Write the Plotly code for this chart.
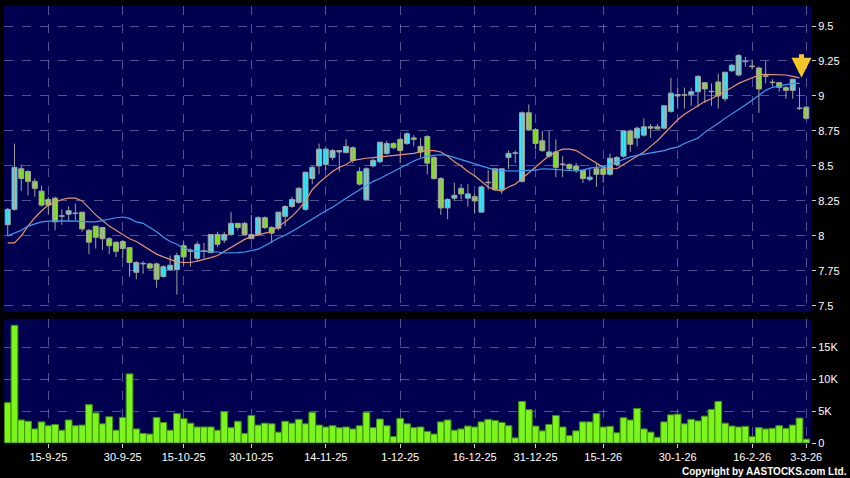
import pandas as pd
import plotly.graph_objects as go

# ---------------- data ----------------
holidays = ["2025-10-01", "2025-10-07", "2025-10-29", "2025-12-25", "2025-12-26",
            "2026-01-01", "2026-02-17", "2026-02-18", "2026-02-19"]
dates = [d for d in pd.bdate_range("2025-09-05", "2026-03-03") if d.strftime("%Y-%m-%d") not in holidays]
date_labels = [d.strftime("%Y-%m-%d") for d in dates]

opens = [8.08, 8.19, 8.48, 8.46, 8.39, 8.32, 8.26, 8.27, 8.14, 8.155,
         8.16, 8.17, 8.04, 8.07, 8.06, 7.98, 7.955, 7.96, 7.916, 7.74,
         7.80, 7.80, 7.80, 7.71, 7.76, 7.76, 7.93, 7.89, 7.84, 7.89,
         7.88, 8.01, 7.97, 8.01, 8.09, 8.09, 7.98, 8.01, 8.13, 8.06,
         8.055, 8.14, 8.21, 8.24, 8.19, 8.41, 8.50, 8.51, 8.56, 8.61,
         8.595, 8.63, 8.46, 8.26, 8.50, 8.53, 8.59, 8.66, 8.69, 8.66,
         8.70, 8.64, 8.71, 8.56, 8.41, 8.20, 8.27, 8.34, 8.27, 8.28,
         8.17, 8.38, 8.48, 8.33, 8.56, 8.59, 8.39, 8.88, 8.76, 8.68,
         8.57, 8.60, 8.51, 8.51, 8.50, 8.47, 8.405, 8.48, 8.48, 8.44,
         8.51, 8.57, 8.75, 8.70, 8.72, 8.78, 8.78, 8.77, 8.89, 9.01,
         9.005, 9.01, 9.03, 9.095, 9.03, 9.10, 8.98, 9.18, 9.15, 9.245,
         9.21, 9.20, 9.14, 9.095, 9.095, 9.06, 9.04, 8.91, 8.92]
highs = [8.20, 8.66, 8.51, 8.47, 8.41, 8.36, 8.28, 8.28, 8.19, 8.21,
         8.23, 8.17, 8.05, 8.07, 8.06, 7.99, 7.96, 7.97, 7.92, 7.82,
         7.82, 7.81, 7.81, 7.79, 7.86, 7.88, 7.96, 7.91, 7.96, 7.95,
         8.01, 8.03, 8.03, 8.17, 8.09, 8.10, 8.15, 8.14, 8.14, 8.07,
         8.17, 8.22, 8.28, 8.35, 8.46, 8.50, 8.66, 8.64, 8.62, 8.61,
         8.69, 8.64, 8.49, 8.49, 8.55, 8.67, 8.68, 8.67, 8.70, 8.74,
         8.72, 8.70, 8.72, 8.57, 8.42, 8.27, 8.38, 8.37, 8.37, 8.30,
         8.36, 8.47, 8.48, 8.48, 8.61, 8.61, 8.89, 8.94, 8.77, 8.75,
         8.75, 8.69, 8.57, 8.52, 8.52, 8.47, 8.48, 8.52, 8.50, 8.59,
         8.57, 8.75, 8.76, 8.78, 8.84, 8.80, 8.80, 8.93, 9.13, 9.06,
         9.06, 9.06, 9.15, 9.10, 9.09, 9.16, 9.17, 9.23, 9.30, 9.28,
         9.26, 9.21, 9.25, 9.12, 9.10, 9.07, 9.12, 9.06, 8.93]
lows = [8.00, 8.18, 8.32, 8.29, 8.28, 8.21, 8.15, 8.04, 8.08, 8.11,
        8.11, 8.03, 7.87, 7.91, 7.90, 7.87, 7.85, 7.84, 7.71, 7.69,
        7.73, 7.76, 7.63, 7.70, 7.75, 7.58, 7.79, 7.78, 7.82, 7.84,
        7.88, 7.92, 7.95, 8.00, 8.04, 8.00, 7.98, 8.00, 8.05, 7.95,
        8.04, 8.07, 8.20, 8.23, 8.18, 8.37, 8.44, 8.47, 8.54, 8.46,
        8.59, 8.52, 8.36, 8.26, 8.49, 8.52, 8.58, 8.62, 8.52, 8.65,
        8.64, 8.56, 8.44, 8.40, 8.15, 8.12, 8.25, 8.26, 8.21, 8.16,
        8.17, 8.33, 8.32, 8.30, 8.48, 8.52, 8.38, 8.75, 8.62, 8.60,
        8.56, 8.42, 8.42, 8.47, 8.45, 8.38, 8.39, 8.35, 8.38, 8.43,
        8.50, 8.56, 8.60, 8.64, 8.71, 8.70, 8.76, 8.76, 8.88, 8.91,
        8.91, 8.93, 8.92, 8.95, 8.93, 8.91, 8.96, 9.17, 9.14, 9.21,
        9.19, 8.88, 9.09, 9.07, 9.03, 8.98, 8.98, 8.90, 8.83]
closes = [8.19, 8.49, 8.41, 8.39, 8.34, 8.22, 8.22, 8.10, 8.14, 8.18,
          8.16, 8.05, 7.955, 7.99, 7.98, 7.93, 7.89, 7.91, 7.81, 7.81,
          7.80, 7.77, 7.69, 7.78, 7.79, 7.86, 7.85, 7.89, 7.94, 7.89,
          8.01, 7.94, 8.01, 8.09, 8.06, 8.01, 8.01, 8.13, 8.06, 8.02,
          8.17, 8.21, 8.26, 8.34, 8.455, 8.49, 8.62, 8.62, 8.61, 8.60,
          8.64, 8.54, 8.37, 8.48, 8.54, 8.67, 8.66, 8.63, 8.61, 8.73,
          8.69, 8.60, 8.52, 8.41, 8.20, 8.26, 8.29, 8.30, 8.30, 8.25,
          8.35, 8.38, 8.33, 8.48, 8.59, 8.59, 8.88, 8.76, 8.66, 8.61,
          8.60, 8.49, 8.51, 8.48, 8.47, 8.41, 8.42, 8.44, 8.44, 8.555,
          8.56, 8.75, 8.655, 8.77, 8.78, 8.77, 8.765, 8.93, 9.02, 9.00,
          9.005, 9.03, 9.14, 9.05, 9.03, 9.00, 9.17, 9.22, 9.29, 9.245,
          9.21, 9.05, 9.14, 9.095, 9.062, 9.04, 9.12, 8.91, 8.84]

ma_short = [7.95, 7.95, 8.00, 8.07, 8.13, 8.18, 8.22, 8.24, 8.26, 8.27,
            8.27, 8.25, 8.20, 8.15, 8.11, 8.07, 8.04, 8.01, 7.98, 7.96,
            7.93, 7.90, 7.87, 7.85, 7.83, 7.815, 7.81, 7.81, 7.82, 7.83,
            7.845, 7.86, 7.89, 7.92, 7.95, 7.975, 7.995, 8.01, 8.02, 8.03,
            8.07, 8.10, 8.14, 8.19, 8.25, 8.33, 8.38, 8.42, 8.46, 8.49,
            8.51, 8.54, 8.55, 8.555, 8.56, 8.565, 8.567, 8.57, 8.58, 8.585,
            8.59, 8.60, 8.61, 8.61, 8.60, 8.57, 8.53, 8.50, 8.46, 8.43,
            8.39, 8.35, 8.33, 8.32, 8.35, 8.37, 8.41, 8.45, 8.49, 8.53,
            8.575, 8.60, 8.62, 8.62, 8.61, 8.58, 8.55, 8.52, 8.49, 8.48,
            8.48, 8.51, 8.54, 8.57, 8.60, 8.64, 8.68, 8.73, 8.78, 8.83,
            8.87, 8.90, 8.93, 8.96, 8.98, 9.005, 9.03, 9.06, 9.09, 9.11,
            9.13, 9.15, 9.155, 9.155, 9.155, 9.15, 9.14, 9.13, None]
ma_long = [8.00, 8.02, 8.04, 8.07, 8.085, 8.10, 8.105, 8.107, 8.107, 8.107,
           8.105, 8.10, 8.10, 8.10, 8.11, 8.125, 8.13, 8.135, 8.125, 8.10,
           8.09, 8.06, 8.03, 7.99, 7.96, 7.94, 7.91, 7.90, 7.89, 7.89,
           7.89, 7.885, 7.878, 7.877, 7.88, 7.885, 7.895, 7.905, 7.93, 7.96,
           7.985, 8.005, 8.03, 8.06, 8.09, 8.12, 8.155, 8.18, 8.205, 8.24,
           8.27, 8.30, 8.33, 8.36, 8.39, 8.41, 8.435, 8.46, 8.49, 8.51,
           8.535, 8.555, 8.57, 8.575, 8.58, 8.575, 8.56, 8.545, 8.525, 8.51,
           8.495, 8.485, 8.47, 8.466, 8.464, 8.464, 8.466, 8.468, 8.47, 8.48,
           8.479, 8.475, 8.471, 8.468, 8.464, 8.47, 8.484, 8.49, 8.495, 8.51,
           8.53, 8.55, 8.565, 8.575, 8.584, 8.59, 8.60, 8.61, 8.625, 8.635,
           8.66, 8.68, 8.70, 8.74, 8.77, 8.805, 8.84, 8.87, 8.90, 8.935,
           8.97, 9.005, 9.04, 9.062, 9.072, 9.08, 9.09, 9.09, None]

volume_k = [6.3, 18.4, 3.6, 3.4, 2.2, 3.3, 2.7, 2.9, 2.0, 3.6,
            2.7, 2.8, 6.0, 4.7, 3.0, 4.1, 2.0, 4.0, 10.8, 2.2,
            1.5, 1.4, 4.0, 3.2, 2.0, 4.6, 3.8, 3.1, 2.5, 2.5,
            2.5, 2.0, 4.9, 2.4, 3.4, 1.5, 4.3, 2.8, 3.1, 3.0,
            1.7, 3.4, 3.1, 3.7, 3.0, 4.8, 2.8, 2.5, 2.7, 2.4,
            2.5, 2.2, 2.7, 4.8, 2.4, 3.75, 2.7, 1.0, 3.85, 3.0,
            2.4, 2.5, 1.8, 1.4, 3.3, 3.6, 2.0, 2.2, 2.65, 2.5,
            3.3, 3.7, 3.5, 3.2, 2.7, 0.8, 6.5, 5.2, 2.65, 1.9,
            2.9, 4.3, 2.5, 1.15, 1.9, 3.3, 3.3, 4.6, 2.5, 2.6,
            1.6, 3.95, 3.6, 5.4, 2.2, 1.7, 0.9, 3.3, 4.4, 4.5,
            3.0, 3.7, 3.45, 4.2, 5.25, 6.5, 3.1, 2.65, 2.5, 2.6,
            1.0, 2.4, 2.2, 2.3, 2.7, 2.3, 2.8, 3.9, 0.6]

tick_dates = ["2025-09-15", "2025-09-30", "2025-10-15", "2025-10-30", "2025-11-14", "2025-12-01",
              "2025-12-16", "2025-12-31", "2026-01-15", "2026-01-30", "2026-02-16", "2026-03-03"]
tick_text = ["15-9-25", "30-9-25", "15-10-25", "30-10-25", "14-11-25", "1-12-25",
             "16-12-25", "31-12-25", "15-1-26", "30-1-26", "16-2-26", "3-3-26"]
price_ticks = [7.5, 7.75, 8, 8.25, 8.5, 8.75, 9, 9.25, 9.5]
price_tick_text = ["7.5", "7.75", "8", "8.25", "8.5", "8.75", "9", "9.25", "9.5"]
vol_ticks = [0, 5, 10, 15]
vol_tick_text = ["0", "5K", "10K", "15K"]

# ---------------- figure ----------------
BG = "#000050"
GRID = "rgba(150,150,200,0.55)"
FONT = "Liberation Sans, Arial, sans-serif"
UP, DOWN, FLAT, EDGE = "#36e8f8", "#84e61c", "#a8a8a8", "#a0a0a0"

body_base = [min(o, c) for o, c in zip(opens, closes)]
body_len = [max(abs(c - o), 0.004) for o, c in zip(opens, closes)]
body_col = [UP if c > o else (DOWN if c < o else FLAT) for o, c in zip(opens, closes)]

wick_x, wick_y = [], []
for d, h, l in zip(date_labels, highs, lows):
    wick_x += [d, d, None]
    wick_y += [l, h, None]

fig = go.Figure()
fig.add_trace(go.Scatter(x=wick_x, y=wick_y, mode="lines", line=dict(color=EDGE, width=1),
                         xaxis="x", yaxis="y", showlegend=False, hoverinfo="skip"))
fig.add_trace(go.Bar(x=date_labels, y=body_len, base=body_base, width=0.74,
                     marker=dict(color=body_col, line=dict(color=EDGE, width=1)),
                     xaxis="x", yaxis="y", showlegend=False, hoverinfo="skip"))
fig.add_trace(go.Scatter(x=date_labels, y=ma_short, mode="lines",
                         line=dict(color="#e8936a", width=1.2), xaxis="x", yaxis="y",
                         showlegend=False, hoverinfo="skip"))
fig.add_trace(go.Scatter(x=date_labels, y=ma_long, mode="lines",
                         line=dict(color="#3d9df0", width=1.2), xaxis="x", yaxis="y",
                         showlegend=False, hoverinfo="skip"))
fig.add_trace(go.Bar(x=date_labels, y=volume_k, width=1.0,
                     marker=dict(color="#7cf51c", line=dict(color="#3f8f0c", width=1)),
                     xaxis="x2", yaxis="y2", showlegend=False, hoverinfo="skip"))

xr = [-0.55, 118.7]
common_x = dict(type="category", range=xr, showgrid=True, gridcolor=GRID, griddash="dash",
                gridwidth=1, zeroline=False, showline=False, automargin=False,
                tickvals=tick_dates, ticktext=tick_text)
common_y = dict(side="right", showgrid=True, gridcolor=GRID, griddash="dash", zeroline=False,
                ticks="outside", ticklen=4, tickcolor="#cccccc", automargin=False,
                tickfont=dict(size=11, color="#ffffff", family=FONT))
fig.update_layout(
    width=850, height=478,
    margin=dict(l=4, r=39, t=6, b=35),
    paper_bgcolor="#000000", plot_bgcolor=BG,
    font=dict(family=FONT, color="#ffffff", size=11),
    barmode="overlay",
    xaxis=dict(common_x, domain=[0, 1], anchor="y", showticklabels=False, ticks=""),
    xaxis2=dict(common_x, domain=[0, 1], anchor="y2", matches="x", showticklabels=True,
                ticks="outside", ticklen=4, tickcolor="#cccccc",
                tickfont=dict(size=11, color="#ffffff", family=FONT)),
    yaxis=dict(common_y, domain=[0.30, 1.0], range=[7.457, 9.643],
               tickvals=price_ticks, ticktext=price_tick_text),
    yaxis2=dict(common_y, domain=[0.0, 0.284], range=[0, 19.4],
                tickvals=vol_ticks, ticktext=vol_tick_text),
)

# marker arrow above the latest moving-average point
fig.add_annotation(x=117.3, y=ma_short[117], xref="x", yref="y",
                   showarrow=True, ax=0, ay=-25, arrowhead=2, arrowsize=0.8,
                   arrowwidth=5, arrowcolor="#f6c624", text="")

fig.add_annotation(text="<b>Copyright by AASTOCKS.com Ltd.</b>", xref="paper", yref="paper",
                   x=1.0, xshift=38, y=-0.066, xanchor="right", yanchor="middle", showarrow=False,
                   font=dict(size=10, color="#ffffff", family=FONT))

fig.write_html("out.html", config={"displayModeBar": False},
               post_script="document.body.style.margin='0';document.body.style.overflow='hidden';")
